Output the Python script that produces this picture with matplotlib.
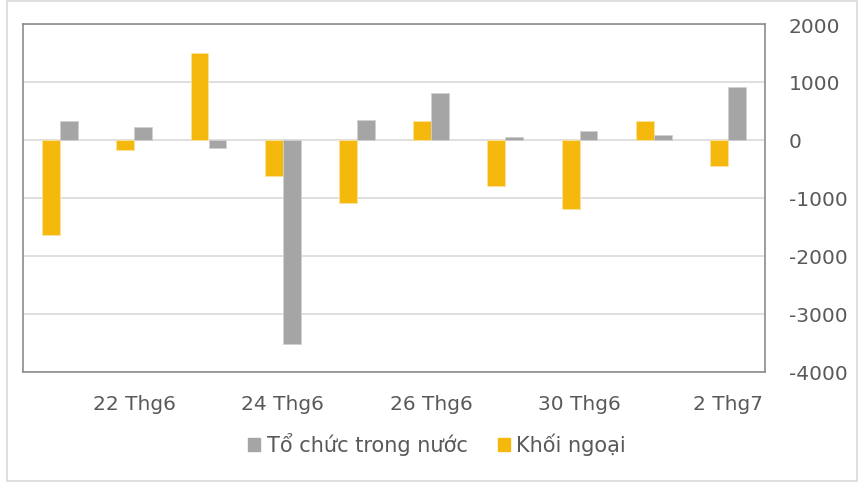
import numpy as np
import matplotlib.pyplot as plt
from matplotlib.patches import Patch, Rectangle

plt.rcParams['axes.unicode_minus'] = False

# data
dates = ['21 Thg6', '22 Thg6', '23 Thg6', '24 Thg6', '25 Thg6',
         '26 Thg6', '29 Thg6', '30 Thg6', '1 Thg7', '2 Thg7']
khoi_ngoai = [-1630, -170, 1500, -615, -1080, 320, -795, -1195, 320, -440]
to_chuc = [320, 220, -140, -3510, 350, 805, 45, 160, 90, 920]
yticks = [-4000, -3000, -2000, -1000, 0, 1000, 2000]

orange = '#F5B90E'
gray = '#A5A5A5'
txt = '#595959'

fig = plt.figure(figsize=(8.58, 4.85), dpi=100)
fig.patches.append(Rectangle((7 / 858, 3 / 485), 850 / 858, 480 / 485,
                             transform=fig.transFigure, fill=False,
                             edgecolor='#D9D9D9', linewidth=1.2))

ax = fig.add_axes([23 / 858, 112 / 485, 742 / 858, 348 / 485])
x = np.arange(len(dates))
w = 0.24
ax.bar(x - w / 2, khoi_ngoai, w, color=orange, edgecolor='#FBE3A0', linewidth=0.6, zorder=3)
ax.bar(x + w / 2, to_chuc, w, color=gray, edgecolor='#D0D0D0', linewidth=0.6, zorder=3)

ax.set_xlim(-0.5, len(dates) - 0.5)
ax.set_ylim(-4000, 2000)
ax.set_yticks(yticks)
ax.yaxis.tick_right()
ax.grid(axis='y', color='#D9D9D9', linewidth=1.2, zorder=0)
ax.tick_params(axis='y', length=0, pad=17, labelsize=14.5, labelcolor=txt)

# every second date is labelled
ax.set_xticks(x[1::2])
ax.set_xticklabels(dates[1::2])
ax.tick_params(axis='x', length=0, pad=16, labelsize=14.5, labelcolor=txt)

for s in ax.spines.values():
    s.set_color('#8C8C8C')
    s.set_linewidth(1.2)

handles = [Patch(color=gray, label='Tổ chức trong nước'),
           Patch(color=orange, label='Khối ngoại')]
fig.legend(handles=handles, loc='center', bbox_to_anchor=(437 / 858, 40 / 485),
           ncol=2, frameon=False, fontsize=15, labelcolor=txt,
           handlelength=0.6, handleheight=0.6, handletextpad=0.3,
           columnspacing=1.45)

fig.savefig('out.png', dpi=100)
